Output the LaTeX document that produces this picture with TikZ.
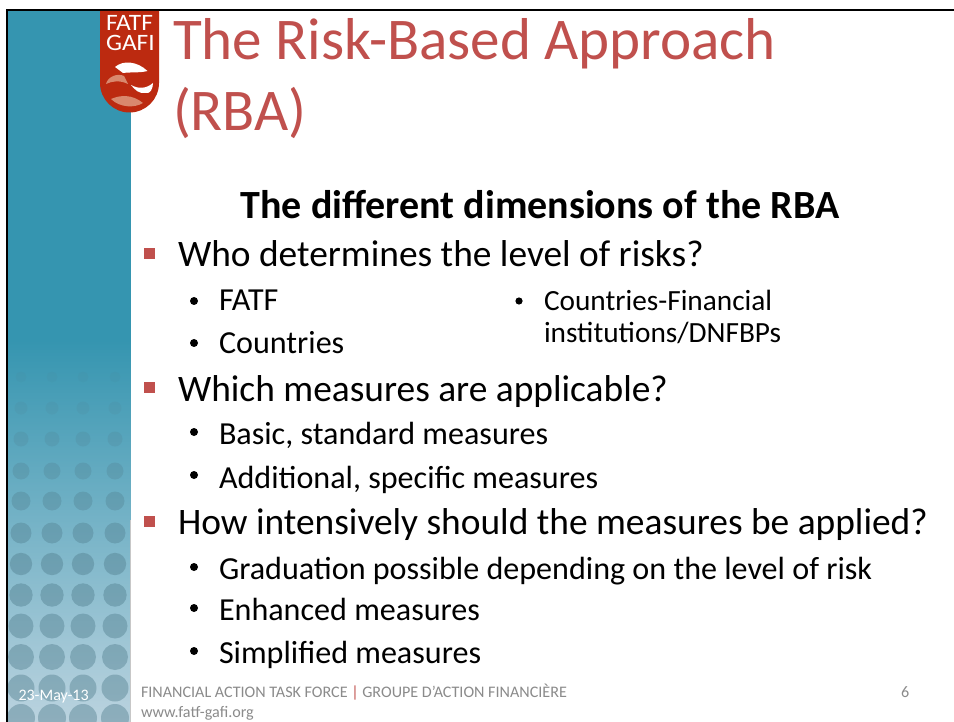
\documentclass[tikz,border=0pt]{standalone}
\usepackage{fontspec}
\setmainfont{Carlito}
\newfontfamily\logofont[FakeStretch=1.08]{Carlito}
\definecolor{rbared}{HTML}{C0504D}
\definecolor{logored}{HTML}{BC2A10}
\definecolor{logopale}{HTML}{D9886E}
\definecolor{foot}{HTML}{8B8B8B}
\definecolor{teala}{HTML}{3595B0}
\definecolor{tealb}{HTML}{BBD3DF}
\definecolor{discc}{HTML}{4F7C8C}
\tikzset{
  x=1pt,y=-1pt,
  txt/.style={anchor=base west,inner sep=0pt,outer sep=0pt},
  titletext/.style={txt,text=rbared,font=\fontsize{59.1}{60}\selectfont},
  lone/.style={txt,font=\fontsize{37.4}{40}\selectfont},
  ltwo/.style={txt,font=\fontsize{32.1}{36}\selectfont},
  lsmall/.style={txt,font=\fontsize{29.3}{30}\selectfont},
  foottext/.style={txt,text=foot,font=\fontsize{16.1}{17}\selectfont},
  logotext/.style={anchor=north west,inner sep=0pt,outer sep=0pt,text=white,align=left,font=\logofont\fontsize{23.5}{20.7}\selectfont},
  sq/.style={fill=rbared,draw=none},
  dot/.style={fill=black,draw=none},
}
\begin{document}
\begin{tikzpicture}
\useasboundingbox (0,0) rectangle (954,722);
\fill[white] (0,0) rectangle (954,722);
% side band
\fill[teala] (7,10) rectangle (130.5,340);
\shade[top color=teala,bottom color=tealb] (7,340) rectangle (130.5,722);
\draw[line width=0.6pt,black!22] (130.5,520) -- (130.5,722);
% discs
\foreach \yy/\rr/\oo in {377/5.5/0.08,408/6.5/0.13,439/7.5/0.2,471/8.5/0.27,501/9.5/0.33,533/10.5/0.38,564/11.2/0.42,595/11.7/0.42,626/12.5/0.42,657/13/0.42,688/13.5/0.42,718/14/0.42}{
  \foreach \xx in {21,52,83,115}{
    \fill[discc,fill opacity=\oo] (\xx,\yy) circle[radius=\rr];
  }
}
% border
\draw[line width=2.2pt,black] (7,722) -- (7,10) -- (954,10);
% logo
\fill[logored] (100,11) -- (159,11) -- (159,83) arc[start angle=0,end angle=180,radius=29.5] -- cycle;
\node[logotext] (logo) at (106,15) {FATF\\GAFI};
\fill[white] (115,67) .. controls (123,60) and (137,61) .. (147.5,71) .. controls (140,73) and (130,72) .. (123,73) .. controls (120,71) and (118,69) .. (115,67) -- cycle;
\fill[white] (131,85) .. controls (138,89) and (146,89) .. (153,83) .. controls (153,89) and (150,94) .. (146,93) .. controls (139,94) and (135,90) .. (131,85) -- cycle;
\fill[logopale] (106,84) .. controls (108,76) and (118,73) .. (124,76) .. controls (125,79) and (127,81) .. (128,84) .. controls (120,80) and (112,81) .. (106,84) -- cycle;
\fill[logopale] (111,99) .. controls (120,95) and (132,94) .. (143,103) .. controls (135,108) and (120,108) .. (111,99) -- cycle;
% title
\node[titletext] (t1) at (173,60) {The Risk-Based Approach};
\node[titletext] (t2) at (173,131) {(RBA)};
% heading
\node[anchor=base,inner sep=0pt,font=\bfseries\fontsize{40}{42}\selectfont] (h) at (540,219) {The different dimensions of the RBA};
% level 1
\fill[sq] (144,248.5) rectangle (155,259.5);
\node[lone] (a) at (178,267) {Who determines the level of risks?};
\fill[sq] (144,382) rectangle (155,393);
\node[lone] (b) at (178,401) {Which measures are applicable?};
\fill[sq] (144,516) rectangle (155,527);
\node[lone] (c) at (178,534) {How intensively should the measures be applied?};
% level 2
\foreach \yy in {301,343,432,475,567,608,651}{\fill[dot] (194,\yy) circle[radius=4];}
\fill[dot] (519,301) circle[radius=3.6];
\node[ltwo] (a1) at (219,311) {FATF};
\node[ltwo] (a2) at (219,353) {Countries};
\node[lsmall] (a3) at (544,311) {Countries-Financial};
\node[lsmall] (a4) at (544,342) {institutions/DNFBPs};
\node[ltwo] (b1) at (219,444) {Basic, standard measures};
\node[ltwo] (b2) at (219,488) {Additional, specific measures};
\node[ltwo] (c1) at (219,579) {Graduation possible depending on the level of risk};
\node[ltwo] (c2) at (219,620) {Enhanced measures};
\node[ltwo] (c3) at (219,663) {Simplified measures};
% footer
\node[txt,text=white,font=\fontsize{16}{17}\selectfont] (date) at (18.5,700) {23-May-13};
\node[foottext] (f1) at (141,697) {FINANCIAL ACTION TASK FORCE {\color{rbared}|} GROUPE D’ACTION FINANCIÈRE};
\node[foottext] (f2) at (141,717) {www.fatf-gafi.org};
\node[foottext] (n) at (901,697) {6};
\end{tikzpicture}
\end{document}
